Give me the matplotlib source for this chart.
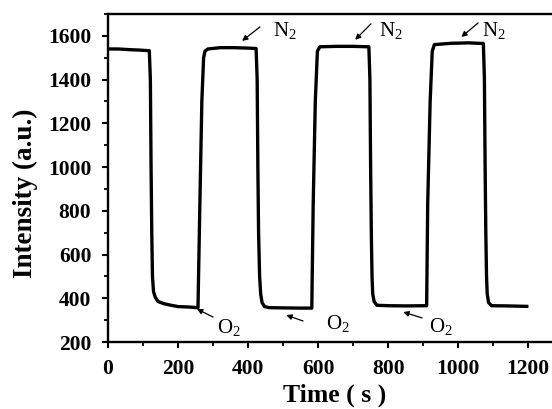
import matplotlib
matplotlib.use("Agg")
import matplotlib.pyplot as plt
from matplotlib.ticker import MultipleLocator

# ---- data ----
time_s = [0, 30, 60, 90, 118,
          121, 123, 125, 127, 130, 135, 143, 160, 180, 200, 230, 257,
          262, 268, 273, 277, 285, 320, 360, 400, 423,
          426, 428, 430, 433, 436, 440, 447, 460, 500, 550, 582,
          586, 592, 598, 605, 650, 700, 745,
          748, 750, 752, 754, 756, 760, 768, 800, 850, 910,
          913, 920, 926, 932, 980, 1030, 1072,
          1075, 1077, 1079, 1081, 1083, 1087, 1095, 1140, 1196]
intensity = [1540, 1540, 1537, 1535, 1532,
             1400, 1000, 700, 500, 430, 405, 385, 375, 368, 362, 360, 357,
             800, 1300, 1500, 1530, 1540, 1546, 1546, 1544, 1542,
             1400, 1000, 700, 500, 420, 380, 362, 357, 356, 355, 355,
             830, 1300, 1530, 1550, 1552, 1552, 1550,
             1400, 1000, 700, 500, 420, 385, 368, 366, 365, 366,
             830, 1300, 1530, 1560, 1566, 1568, 1565,
             1400, 1000, 700, 500, 420, 380, 366, 365, 363]

x_ticks = [0, 200, 400, 600, 800, 1000, 1200]
y_ticks = [200, 400, 600, 800, 1000, 1200, 1400, 1600]

# annotations: label, arrow tip, arrow tail, text position
ann_labels = [r'$\mathregular{N_2}$'] * 3 + [r'$\mathregular{O_2}$'] * 3
ann_tips = [(383, 1577), (706, 1582), (1009, 1595), (254, 351), (509, 323), (843, 337)]
ann_tails = [(434, 1641), (751, 1655), (1057, 1659), (300, 314), (557, 296), (897, 310)]
ann_text = [(505, 1625), (808, 1625), (1102, 1625), (344, 268), (656, 286), (952, 272)]

serif = ['Liberation Serif', 'DejaVu Serif']
plt.rcParams['font.family'] = serif
plt.rcParams['mathtext.fontset'] = 'custom'
plt.rcParams['mathtext.rm'] = 'Liberation Serif'

fig = plt.figure(figsize=(5.52, 4.09), dpi=100)
ax = fig.add_axes([108/552, 67/409, 1 - 108/552, (342 - 14)/409])

ax.plot(time_s, intensity, color='black', lw=2.4, solid_joinstyle='round')

ax.set_xlim(0, 1268)
ax.set_ylim(200, 1700)
ax.set_xticks(x_ticks)
ax.set_yticks(y_ticks)
ax.xaxis.set_minor_locator(MultipleLocator(100))
ax.yaxis.set_minor_locator(MultipleLocator(100))

for s in ['left', 'bottom', 'top']:
    ax.spines[s].set_linewidth(1.7)
ax.spines['right'].set_visible(False)

ax.tick_params(which='major', direction='out', length=4.5, width=1.5, pad=7.5,
               labelsize=15.5)
ax.tick_params(which='minor', direction='out', length=3, width=1.3)
ax.tick_params(top=False, right=False, which='both')
for lab in ax.get_xticklabels() + ax.get_yticklabels():
    lab.set_fontweight('bold')

ax.set_xlabel('Time ( s )', fontsize=18.5, fontweight='bold', va='baseline')
ax.xaxis.set_label_coords(0.511, -0.182)
ax.set_ylabel('Intensity (a.u.)', fontsize=19.5, fontweight='bold', va='center')
ax.yaxis.set_label_coords(-0.187, 0.454)

for lab, tip, tail, txt in zip(ann_labels, ann_tips, ann_tails, ann_text):
    ax.annotate('', xy=tip, xytext=tail,
                arrowprops=dict(arrowstyle='-|>', color='black', lw=0.9,
                                mutation_scale=8, shrinkA=0, shrinkB=0))
    ax.text(txt[0], txt[1], lab, fontsize=15, ha='center', va='center')

fig.savefig('out.png', dpi=100)
